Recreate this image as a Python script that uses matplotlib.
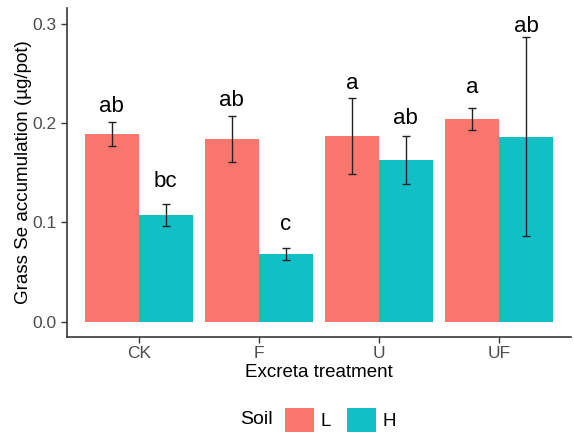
import numpy as np
import matplotlib
matplotlib.use('Agg')
import matplotlib.pyplot as plt
from matplotlib.patches import Patch

plt.rcParams['font.family'] = ['Liberation Sans', 'DejaVu Sans']

# data
treatments = ['CK', 'F', 'U', 'UF']
soils = ['L', 'H']
mean_L = [0.189, 0.184, 0.187, 0.204]
se_L = [0.012, 0.023, 0.038, 0.011]
mean_H = [0.107, 0.068, 0.163, 0.186]
se_H = [0.011, 0.006, 0.024, 0.100]
letters_L = ['ab', 'ab', 'a', 'a']
letters_H = ['bc', 'c', 'ab', 'ab']
label_y_L = [0.211, 0.2168, 0.2346, 0.2296]
label_y_H = [0.1357, 0.0922, 0.1994, 0.2915]

col_L = '#F8766D'
col_H = '#12BFC4'

fig = plt.figure(figsize=(5.74, 4.33), dpi=100)
ax = fig.add_axes([0.1162, 0.2224, 0.8786, 0.7584])

x = np.arange(len(treatments))
w = 0.45
ax.bar(x - w/2, mean_L, width=w, color=col_L, zorder=2)
ax.bar(x + w/2, mean_H, width=w, color=col_H, zorder=2)
ax.errorbar(x - w/2, mean_L, yerr=se_L, fmt='none', ecolor='#222222',
            elinewidth=1.0, capsize=3.2, capthick=1.0, zorder=3)
ax.errorbar(x + w/2, mean_H, yerr=se_H, fmt='none', ecolor='#222222',
            elinewidth=1.0, capsize=3.2, capthick=1.0, zorder=3)

# significance letters
for i in range(len(treatments)):
    ax.text(x[i] - w/2, label_y_L[i], letters_L[i], ha='center', va='baseline',
            fontsize=16, color='black')
    ax.text(x[i] + w/2, label_y_H[i], letters_H[i], ha='center', va='baseline',
            fontsize=16, color='black')

ax.set_xlim(-0.6, 3.6)
ax.set_ylim(-0.0151, 0.3153)
ax.set_xticks(x)
ax.set_xticklabels(treatments)
ax.set_yticks([0.0, 0.1, 0.2, 0.3])
ax.set_yticklabels(['0.0', '0.1', '0.2', '0.3'])

for s in ['top', 'right']:
    ax.spines[s].set_visible(False)
for s in ['left', 'bottom']:
    ax.spines[s].set_color('#3a3a3a')
    ax.spines[s].set_linewidth(1.2)
ax.tick_params(axis='both', colors='#3a3a3a', length=4, width=1,
               labelsize=12.5, labelcolor='#4d4d4d', pad=3)

ax.set_xlabel('Excreta treatment', fontsize=13.5, labelpad=2)
ax.set_ylabel('Grass Se accumulation (\u00b5g/pot)', fontsize=13.5)
ax.yaxis.set_label_coords(-0.068, 0.5)

# legend at the bottom with title on the left
handles = [Patch(facecolor=col_L, edgecolor='none'),
           Patch(facecolor=col_H, edgecolor='none')]
fig.legend(handles, soils, loc='center left', bbox_to_anchor=(285/574, 1 - 420/433),
           ncol=2, frameon=False, fontsize=13.5, handlelength=1.55, handleheight=1.55,
           handletextpad=0.35, columnspacing=0.85, borderpad=0, borderaxespad=0)
fig.text(240/574, 1 - 420/433, 'Soil', fontsize=14, ha='left', va='center')

fig.savefig('out.png', dpi=100)
